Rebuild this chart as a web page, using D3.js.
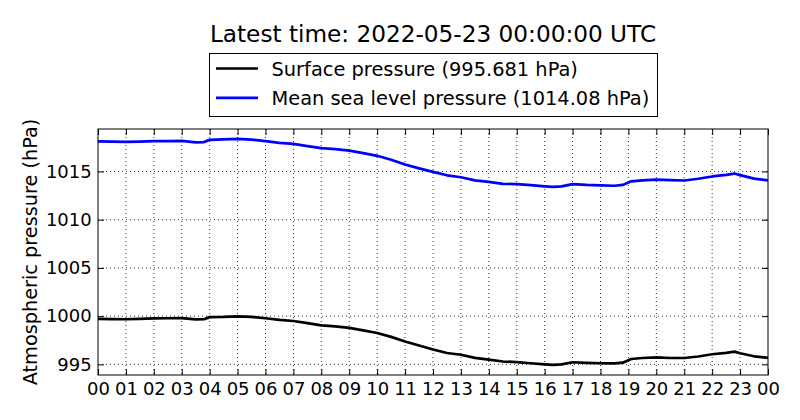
<!DOCTYPE html>
<html>
<head>
<meta charset="utf-8">
<script src="https://cdn.jsdelivr.net/npm/d3@7/dist/d3.min.js"></script>
<style>
  html, body { margin: 0; padding: 0; background: #fff; }
  svg { display: block; font-family: "DejaVu Sans", sans-serif; }
</style>
</head>
<body>
<svg id="chart" width="800" height="420"></svg>
<script>
// ---- data ----
const hours = [0, 0.5, 1, 1.5, 2, 2.5, 3, 3.5, 3.8, 4, 4.5, 5, 5.5, 6, 6.5, 7, 7.5, 8, 8.5, 9, 9.5, 10, 10.5, 11, 11.5, 12,
               12.5, 13, 13.5, 14, 14.5, 15, 15.5, 16, 16.3, 16.6, 17, 17.5, 18, 18.5, 18.8, 19.1, 19.5, 20, 20.5, 21, 21.5, 22, 22.5, 22.8, 23, 23.5, 24];
const surfacePressure = [999.72, 999.70, 999.68, 999.72, 999.76, 999.78, 999.80, 999.66, 999.68, 999.90, 999.92, 999.98, 999.92, 999.78, 999.62, 999.50, 999.28, 999.05, 998.94, 998.78, 998.52, 998.25, 997.85, 997.38, 996.95, 996.55,
                         996.18, 996.00, 995.68, 995.50, 995.30, 995.24, 995.12, 995.00, 994.94, 995.00, 995.22, 995.16, 995.12, 995.10, 995.18, 995.56, 995.66, 995.72, 995.66, 995.66, 995.82, 996.05, 996.20, 996.32, 996.16, 995.84, 995.681];
const mslPressure = [1018.12, 1018.10, 1018.06, 1018.10, 1018.14, 1018.14, 1018.17, 1018.02, 1018.04, 1018.28, 1018.32, 1018.38, 1018.30, 1018.15, 1017.97, 1017.85, 1017.62, 1017.42, 1017.32, 1017.16, 1016.90, 1016.62, 1016.22, 1015.72, 1015.32, 1014.95,
                     1014.60, 1014.40, 1014.08, 1013.92, 1013.72, 1013.68, 1013.58, 1013.46, 1013.40, 1013.46, 1013.68, 1013.60, 1013.56, 1013.52, 1013.60, 1013.98, 1014.08, 1014.16, 1014.10, 1014.06, 1014.24, 1014.48, 1014.64, 1014.78, 1014.62, 1014.26, 1014.08];
const xTickValues = d3.range(0, 25);
const xTickLabels = ["00","01","02","03","04","05","06","07","08","09","10","11","12","13","14","15","16","17","18","19","20","21","22","23","00"];
const yTickValues = [995, 1000, 1005, 1010, 1015];
const seriesNames = ["Surface pressure (995.681 hPa)", "Mean sea level pressure (1014.08 hPa)"];
const seriesColors = ["#000000", "#0000ff"];
const titleText = "Latest time: 2022-05-23 00:00:00 UTC";
const yLabelText = "Atmospheric pressure (hPa)";

// ---- layout ----
const svg = d3.select("#chart");
const L = 98, R = 768, T = 129, B = 375;
const x = d3.scaleLinear().domain([0, 24]).range([L, R]);
const y = d3.scaleLinear().domain([993.9, 1019.4]).range([B, T]);

// grid
const grid = svg.append("g");
grid.selectAll("line.vx").data(xTickValues.slice(1, -1)).enter().append("line")
  .attr("x1", d => x(d)).attr("x2", d => x(d)).attr("y1", T).attr("y2", B)
  .attr("stroke", "#000").attr("stroke-width", 0.8).attr("stroke-dasharray", "1,3");
grid.selectAll("line.hy").data(yTickValues).enter().append("line")
  .attr("x1", L).attr("x2", R).attr("y1", d => y(d)).attr("y2", d => y(d))
  .attr("stroke", "#000").attr("stroke-width", 0.8).attr("stroke-dasharray", "1,3");

// lines
const line = d3.line().x((d, i) => x(hours[i])).y(d => y(d));
[surfacePressure, mslPressure].forEach((s, k) => {
  svg.append("path").datum(s).attr("d", line)
    .attr("fill", "none").attr("stroke", seriesColors[k]).attr("stroke-width", 2.7)
    .attr("stroke-linejoin", "round");
});

// axes (ticks inward on all four sides)
const fs = "18px";
const tl = 6;
const xAxis = svg.append("g").attr("transform", `translate(0,${B})`)
  .call(d3.axisBottom(x).tickValues(xTickValues).tickFormat((d, i) => xTickLabels[i]).tickSizeInner(-tl).tickSizeOuter(0).tickPadding(7));
const xTop = svg.append("g").attr("transform", `translate(0,${T})`)
  .call(d3.axisTop(x).tickValues(xTickValues).tickFormat("").tickSizeInner(-tl).tickSizeOuter(0));
const yAxis = svg.append("g").attr("transform", `translate(${L},0)`)
  .call(d3.axisLeft(y).tickValues(yTickValues).tickFormat(d3.format("d")).tickSizeInner(-tl).tickSizeOuter(0).tickPadding(6.3));
const yRight = svg.append("g").attr("transform", `translate(${R},0)`)
  .call(d3.axisRight(y).tickValues(yTickValues).tickFormat("").tickSizeInner(-tl).tickSizeOuter(0));
[xAxis, xTop, yAxis, yRight].forEach(g => {
  g.select(".domain").remove();
  g.selectAll("line").attr("stroke", "#000");
  g.selectAll("text").attr("fill", "#000").style("font-size", fs).style("font-family", "DejaVu Sans");
});

// frame
svg.append("rect").attr("x", L).attr("y", T).attr("width", R - L).attr("height", B - T)
  .attr("fill", "none").attr("stroke", "#000").attr("stroke-width", 1);

// y label
svg.append("text").attr("transform", `translate(36.5,${(T + B) / 2}) rotate(-90)`)
  .attr("text-anchor", "middle").style("font-size", "19.3px").text(yLabelText);

// title
svg.append("text").attr("x", (L + R) / 2).attr("y", 42).attr("text-anchor", "middle")
  .style("font-size", "23.2px").text(titleText);

// legend
const lg = svg.append("g");
lg.append("rect").attr("x", 209.5).attr("y", 53.5).attr("width", 448).attr("height", 63)
  .attr("fill", "#fff").attr("stroke", "#000").attr("stroke-width", 1);
seriesNames.forEach((n, k) => {
  const yy = 68.5 + k * 29.3;
  lg.append("line").attr("x1", 216).attr("x2", 258).attr("y1", yy).attr("y2", yy)
    .attr("stroke", seriesColors[k]).attr("stroke-width", 2.7);
  lg.append("text").attr("x", 271.5).attr("y", yy + 7.5).style("font-size", "19.4px").text(n);
});
</script>
</body>
</html>
